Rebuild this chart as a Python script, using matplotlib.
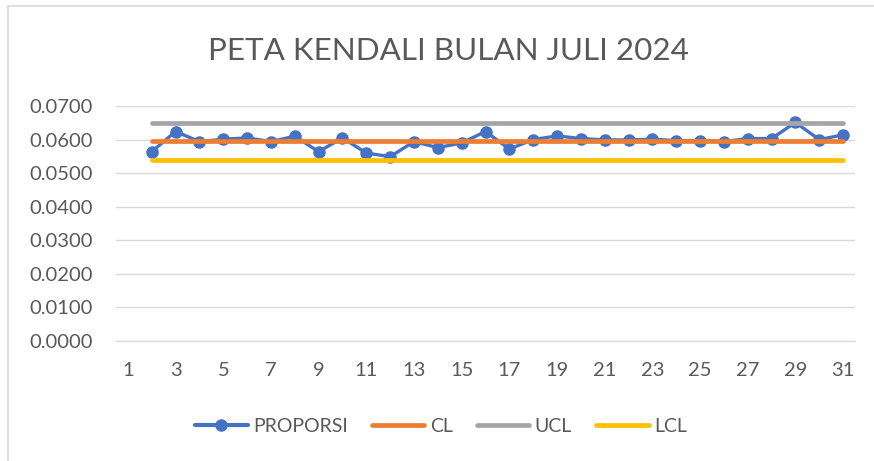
import matplotlib
matplotlib.use("Agg")
import matplotlib.pyplot as plt
from matplotlib.lines import Line2D

days = list(range(2, 32))
proporsi = [0.0564, 0.0624, 0.0594, 0.0601, 0.0605, 0.0594, 0.0610, 0.0564, 0.0605, 0.0560,
            0.0549, 0.0594, 0.0576, 0.0590, 0.0624, 0.0572, 0.0600, 0.0611, 0.0603, 0.0599,
            0.0599, 0.0601, 0.0597, 0.0597, 0.0594, 0.0603, 0.0603, 0.0651, 0.0600, 0.0614]
cl_value = 0.0596
ucl_value = 0.0650
lcl_value = 0.0540
cl = [cl_value] * len(days)
ucl = [ucl_value] * len(days)
lcl = [lcl_value] * len(days)
xticks = list(range(1, 32, 2))
yticks = [0.0, 0.01, 0.02, 0.03, 0.04, 0.05, 0.06, 0.07]

FONT = "Lato"
TXT = "#595959"

W, H = 874, 461
fig = plt.figure(figsize=(W / 100, H / 100), dpi=100)
ax = fig.add_axes([116 / W, 1 - 341 / H, (855 - 116) / W, (341 - 106) / H])

ax.plot(days, proporsi, color="#4472C4", lw=2.4, marker="o", ms=8, zorder=3,
        solid_capstyle="round", label="PROPORSI")
ax.plot(days, cl, color="#ED7D31", lw=3.4, zorder=4, solid_capstyle="round", label="CL")
ax.plot(days, ucl, color="#A5A5A5", lw=3.4, zorder=4, solid_capstyle="round", label="UCL")
ax.plot(days, lcl, color="#FFC000", lw=3.4, zorder=4, solid_capstyle="round", label="LCL")

ax.set_xlim(0.5, 31.5)
ax.set_ylim(0, 0.07)
ax.set_xticks(xticks)
ax.set_xticklabels([str(t) for t in xticks])
ax.set_yticks(yticks)
ax.set_yticklabels([f"{v:.4f}" for v in yticks])
ax.tick_params(axis="both", length=0, labelsize=14.5, labelcolor=TXT)
ax.tick_params(axis="x", pad=15)
ax.tick_params(axis="y", pad=17)
for lab in ax.get_xticklabels() + ax.get_yticklabels():
    lab.set_fontfamily(FONT)
ax.grid(axis="y", color="#D9D9D9", lw=1)
ax.set_axisbelow(True)
for s in ["top", "right", "left"]:
    ax.spines[s].set_visible(False)
ax.spines["bottom"].set_color("#D9D9D9")
ax.spines["bottom"].set_linewidth(1)

fig.text(448 / W, 1 - 51 / H, "PETA KENDALI BULAN JULI 2024", ha="center", va="center",
         fontsize=22.6, color=TXT, fontfamily=FONT)

handles = [
    Line2D([], [], color="#4472C4", lw=3, marker="o", ms=8, solid_capstyle="round"),
    Line2D([], [], color="#ED7D31", lw=3.4, solid_capstyle="round"),
    Line2D([], [], color="#A5A5A5", lw=3.4, solid_capstyle="round"),
    Line2D([], [], color="#FFC000", lw=3.4, solid_capstyle="round"),
]
leg = fig.legend(handles, ["PROPORSI", "CL", "UCL", "LCL"], loc="center",
                 bbox_to_anchor=(441 / W, 1 - 426 / H), ncol=4, frameon=False,
                 handlelength=2.7, handletextpad=0.27, columnspacing=1.25,
                 borderpad=0, prop={"family": FONT, "size": 14})
for t in leg.get_texts():
    t.set_color(TXT)

# chart border (top and left edges visible)
fig.add_artist(Line2D([8 / W, 8 / W], [1 - 6 / H, 0], transform=fig.transFigure,
                      color="#D9D9D9", lw=1.2))
fig.add_artist(Line2D([8 / W, 1], [1 - 6 / H, 1 - 6 / H], transform=fig.transFigure,
                      color="#D9D9D9", lw=1.2))

fig.savefig("out.png", dpi=100)
